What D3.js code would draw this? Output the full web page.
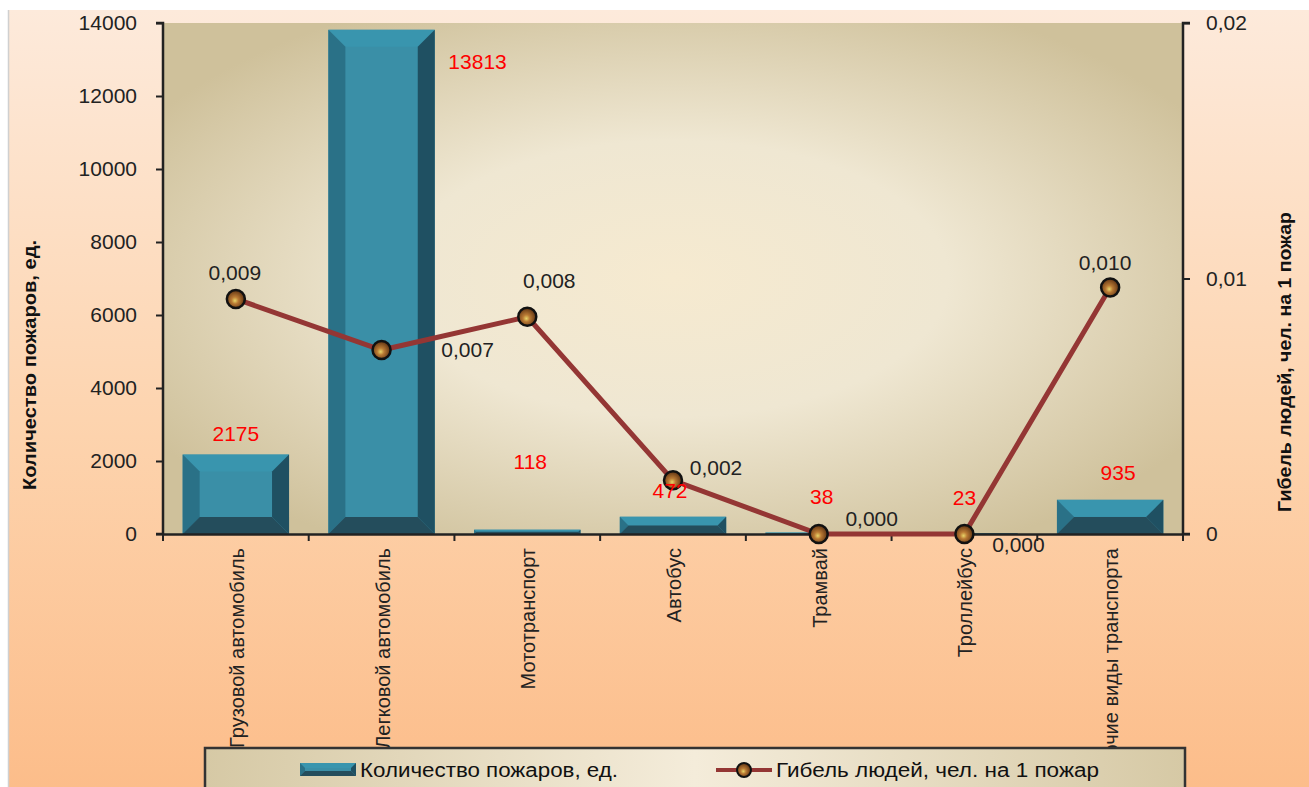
<!DOCTYPE html>
<html>
<head>
<meta charset="utf-8">
<script src="https://cdn.jsdelivr.net/npm/d3@7"></script>
<style>
  body { margin: 0; background: #fff; }
  svg { display: block; font-family: "Liberation Sans", Arial, sans-serif; }
</style>
</head>
<body>
<svg></svg>
<script>
var width = 1309,
	height = 787;

// data
var categories = ["Грузовой автомобиль", "Легковой автомобиль", "Мототранспорт", "Автобус",
	"Трамвай", "Троллейбус", "Прочие виды транспорта"];
var fires = [2175, 13813, 118, 472, 38, 23, 935];
var deathRate = [0.0092, 0.0072, 0.0085, 0.0021, 0, 0, 0.00965];
var deathLabels = ["0,009", "0,007", "0,008", "0,002", "0,000", "0,000", "0,010"];
var leftTicks = [0, 2000, 4000, 6000, 8000, 10000, 12000, 14000];
var rightTicks = [0, 0.01, 0.02];
var rightTickLabels = ["0", "0,01", "0,02"];

// label placement (Excel moved them around)
var barLabelDx = [0, 96, 3, -3, 3, 0, 8];
var barLabelDy = [-21, 32, -68, -26, -36, -36, -27];
var lineLabelDx = [-1, 86, 22, 43, 53, 54, -5];
var lineLabelDy = [-26, 0, -36, -13, -15, 11, -25];

var plot = {left: 163, right: 1183, top: 23, bottom: 534};

var svg = d3.select("svg")
	.attr("width", width)
	.attr("height", height);

var defs = svg.append("defs");

var bgGrad = defs.append("linearGradient").attr("id", "bgGrad")
	.attr("x1", 0).attr("y1", 0).attr("x2", 0).attr("y2", 1);
bgGrad.append("stop").attr("offset", "0%").attr("stop-color", "#fdeadb");
bgGrad.append("stop").attr("offset", "55%").attr("stop-color", "#fdd3ad");
bgGrad.append("stop").attr("offset", "100%").attr("stop-color", "#fcbd8a");

var plotGrad = defs.append("radialGradient").attr("id", "plotGrad")
	.attr("cx", "0.5").attr("cy", "0.5").attr("r", "0.6");
plotGrad.append("stop").attr("offset", "0%").attr("stop-color", "#f6ead0");
plotGrad.append("stop").attr("offset", "45%").attr("stop-color", "#efe7d2");
plotGrad.append("stop").attr("offset", "100%").attr("stop-color", "#cfc19b");

var legGrad = defs.append("linearGradient").attr("id", "legGrad")
	.attr("x1", 0).attr("y1", 0).attr("x2", 1).attr("y2", 0);
legGrad.append("stop").attr("offset", "0%").attr("stop-color", "#d6c9a5");
legGrad.append("stop").attr("offset", "50%").attr("stop-color", "#f4ecda");
legGrad.append("stop").attr("offset", "100%").attr("stop-color", "#d6c9a5");

var ballGrad = defs.append("radialGradient").attr("id", "ballGrad")
	.attr("cx", "0.45").attr("cy", "0.55").attr("r", "0.55")
	.attr("fx", "0.45").attr("fy", "0.6");
ballGrad.append("stop").attr("offset", "0%").attr("stop-color", "#e8d468");
ballGrad.append("stop").attr("offset", "35%").attr("stop-color", "#b97a34");
ballGrad.append("stop").attr("offset", "100%").attr("stop-color", "#5e3212");

// page background
svg.append("rect").attr("x", 8).attr("y", 10).attr("width", width - 8).attr("height", height - 10)
	.attr("fill", "url(#bgGrad)");
svg.append("line").attr("x1", 8.5).attr("x2", 8.5).attr("y1", 10).attr("y2", height)
	.attr("stroke", "#d0d0d0").attr("stroke-width", 1.5);

svg.append("rect")
	.attr("x", plot.left).attr("y", plot.top)
	.attr("width", plot.right - plot.left).attr("height", plot.bottom - plot.top)
	.attr("fill", "url(#plotGrad)");

var x = d3.scaleBand().domain(categories).range([plot.left, plot.right]).padding(0);
var y = d3.scaleLinear().domain([0, 14000]).range([plot.bottom, plot.top]);
var y2 = d3.scaleLinear().domain([0, 0.02]).range([plot.bottom, plot.top]);

var barW = x.bandwidth() * 0.73;

function bevelBar(g, x0, y0, w, h, b) {
	b = Math.min(b, h / 2, w / 2);
	g.append("rect").attr("x", x0).attr("y", y0).attr("width", w).attr("height", h).attr("fill", "#3a8fa7");
	var x1 = x0 + w, y1 = y0 + h;
	var faces = [
		{pts: [[x0, y0], [x1, y0], [x1 - b, y0 + b], [x0 + b, y0 + b]], c: "#3995ae"},
		{pts: [[x0, y0], [x0 + b, y0 + b], [x0 + b, y1 - b], [x0, y1]], c: "#2a7187"},
		{pts: [[x1, y0], [x1, y1], [x1 - b, y1 - b], [x1 - b, y0 + b]], c: "#1f5062"},
		{pts: [[x0, y1], [x0 + b, y1 - b], [x1 - b, y1 - b], [x1, y1]], c: "#244d5c"}
	];
	g.selectAll("polygon.f").data(faces).enter().append("polygon")
		.attr("points", function(d) { return d.pts.map(function(p) { return p.join(","); }).join(" "); })
		.attr("fill", function(d) { return d.c; });
}

// bars
var bars = svg.append("g").attr("id", "bars");
fires.forEach(function(v, i) {
	var cx = x(categories[i]) + x.bandwidth() / 2;
	var g = bars.append("g");
	bevelBar(g, cx - barW / 2, y(v), barW, plot.bottom - y(v), 17);
});

// axes
var leftAxis = d3.axisLeft(y).tickValues(leftTicks).tickSize(7).tickPadding(19).tickFormat(d3.format("d"));
var gl = svg.append("g").attr("transform", "translate(" + plot.left + ",0)").call(leftAxis);

var rightAxis = d3.axisRight(y2).tickValues(rightTicks).tickSize(7).tickPadding(16)
	.tickFormat(function(d, i) { return rightTickLabels[i]; });
var gr = svg.append("g").attr("transform", "translate(" + plot.right + ",0)").call(rightAxis);

var bottomAxis = d3.axisBottom(x).tickSize(0).tickFormat("");
var gb = svg.append("g").attr("transform", "translate(0," + plot.bottom + ")").call(bottomAxis);
// category boundary ticks
var bounds = categories.map(function(c) { return x(c); }).concat([plot.right]);
gb.selectAll("line.b").data(bounds).enter().append("line")
	.attr("x1", function(d) { return d; }).attr("x2", function(d) { return d; })
	.attr("y1", 0).attr("y2", 7).attr("stroke", "#222").attr("stroke-width", 2);

[gl, gr, gb].forEach(function(g) {
	g.select(".domain").attr("stroke", "#222").attr("stroke-width", 2.5);
	g.selectAll(".tick line").attr("stroke", "#222").attr("stroke-width", 2);
	g.selectAll(".tick text").attr("fill", "#222").style("font-size", "21px")
		.style("font-family", "'Liberation Sans', Arial, sans-serif");
});
gl.select(".domain").attr("d", "M-7," + plot.top + "H0V" + plot.bottom + "H-7");
gr.select(".domain").attr("d", "M7," + plot.top + "H0V" + plot.bottom + "H7");

// category labels
svg.append("g").selectAll("text").data(categories).enter().append("text")
	.attr("transform", function(d) {
		return "translate(" + (x(d) + x.bandwidth() / 2 + 1) + ",548) rotate(-90)";
	})
	.attr("text-anchor", "end")
	.attr("dy", "0.35em")
	.style("font-size", "20px")
	.attr("fill", "#222")
	.text(function(d) { return d; });

// line
var line = d3.line()
	.x(function(d, i) { return x(categories[i]) + x.bandwidth() / 2; })
	.y(function(d) { return y2(d); });

svg.append("path")
	.datum(deathRate)
	.attr("d", line)
	.attr("fill", "none")
	.attr("stroke", "#943634")
	.attr("stroke-width", 5);

svg.append("g").selectAll("circle").data(deathRate).enter().append("circle")
	.attr("cx", function(d, i) { return x(categories[i]) + x.bandwidth() / 2; })
	.attr("cy", function(d) { return y2(d); })
	.attr("r", 9)
	.attr("fill", "url(#ballGrad)")
	.attr("stroke", "#111")
	.attr("stroke-width", 2.5);

// bar value labels
svg.append("g").selectAll("text").data(fires).enter().append("text")
	.attr("x", function(d, i) { return x(categories[i]) + x.bandwidth() / 2 + barLabelDx[i]; })
	.attr("y", function(d, i) { return y(d) + barLabelDy[i]; })
	.attr("dy", "0.35em")
	.attr("text-anchor", "middle")
	.attr("fill", "#ff0000")
	.style("font-size", "21px")
	.text(function(d) { return d; });

// line value labels
svg.append("g").selectAll("text").data(deathRate).enter().append("text")
	.attr("x", function(d, i) { return x(categories[i]) + x.bandwidth() / 2 + lineLabelDx[i]; })
	.attr("y", function(d, i) { return y2(d) + lineLabelDy[i]; })
	.attr("dy", "0.35em")
	.attr("text-anchor", "middle")
	.attr("fill", "#222")
	.style("font-size", "21px")
	.text(function(d, i) { return deathLabels[i]; });

// axis titles
svg.append("text")
	.attr("transform", "translate(29,365) rotate(-90)")
	.attr("text-anchor", "middle").attr("dy", "0.35em")
	.style("font-size", "19px").style("font-weight", "bold").attr("fill", "#111")
	.attr("textLength", 250).attr("lengthAdjust", "spacingAndGlyphs")
	.text("Количество пожаров, ед.");
svg.append("text")
	.attr("transform", "translate(1284,362) rotate(-90)")
	.attr("text-anchor", "middle").attr("dy", "0.35em")
	.style("font-size", "19px").style("font-weight", "bold").attr("fill", "#111")
	.attr("textLength", 300).attr("lengthAdjust", "spacingAndGlyphs")
	.text("Гибель людей, чел. на 1 пожар");

// legend
var leg = svg.append("g");
leg.append("rect").attr("x", 205).attr("y", 748).attr("width", 980).attr("height", 60)
	.attr("fill", "url(#legGrad)").attr("stroke", "#333").attr("stroke-width", 2.5);
bevelBar(leg.append("g"), 300, 763, 56, 13, 5);
leg.append("text").attr("x", 360).attr("y", 770).attr("dy", "0.35em")
	.style("font-size", "20px").attr("fill", "#111")
	.attr("textLength", 258).attr("lengthAdjust", "spacingAndGlyphs")
	.text("Количество пожаров, ед.");
leg.append("line").attr("x1", 716).attr("x2", 772).attr("y1", 770).attr("y2", 770)
	.attr("stroke", "#943634").attr("stroke-width", 4);
leg.append("circle").attr("cx", 744).attr("cy", 770).attr("r", 7)
	.attr("fill", "url(#ballGrad)").attr("stroke", "#111").attr("stroke-width", 2);
leg.append("text").attr("x", 776).attr("y", 770).attr("dy", "0.35em")
	.style("font-size", "20px").attr("fill", "#111")
	.attr("textLength", 323).attr("lengthAdjust", "spacingAndGlyphs")
	.text("Гибель людей, чел. на 1 пожар");
</script>
</body>
</html>
